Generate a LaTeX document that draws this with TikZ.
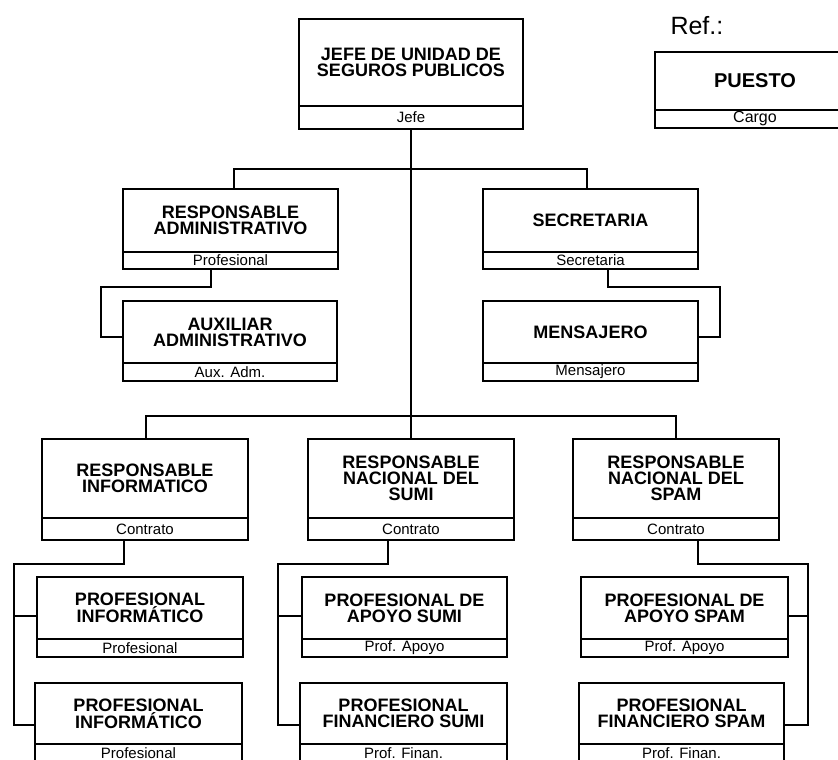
\documentclass[tikz,border=0pt]{standalone}
\usepackage{fontspec}
\setmainfont{Liberation Sans}
\begin{document}
\begin{tikzpicture}[x=1pt,y=-1pt,
  ttl/.style={draw, line width=1.5pt, inner sep=0pt, outer sep=0pt, align=center, anchor=north west,
    font=\bfseries\fontsize{18}{16}\selectfont},
  crg/.style={draw, line width=1.5pt, inner sep=0pt, outer sep=0pt, anchor=north west,
    font=\fontsize{15}{15}\selectfont},
  link/.style={line width=1.5pt}]
\useasboundingbox (0,0) rectangle (838,760);
% ---- reference legend
\node[anchor=base west, font=\fontsize{25}{25}\selectfont] (reft) at (667,35) {Ref.:};
\node[ttl, minimum width=200pt, minimum height=58pt, font=\bfseries\fontsize{20}{20}\selectfont] (ref) at (655,52) {PUESTO};
\node[crg, minimum width=200pt, minimum height=18pt, font=\fontsize{16}{16}\selectfont] (refc) at (ref.south west) {Cargo};
% ---- boxes
\node[ttl, minimum width=224pt, minimum height=87pt] (jefe) at (299,19) {JEFE DE UNIDAD DE\\SEGUROS PUBLICOS};
\node[crg, minimum width=224pt, minimum height=23pt] (jefec) at (jefe.south west) {Jefe};

\node[ttl, minimum width=215pt, minimum height=63pt] (ra) at (123,189) {RESPONSABLE\\ADMINISTRATIVO};
\node[crg, minimum width=215pt, minimum height=17pt] (rac) at (ra.south west) {Profesional};
\node[ttl, minimum width=214pt, minimum height=62pt] (aux) at (123,301) {AUXILIAR\\ADMINISTRATIVO};
\node[crg, minimum width=214pt, minimum height=18pt] (auxc) at (aux.south west) {Aux. Adm.};

\node[ttl, minimum width=215pt, minimum height=63pt] (sec) at (483,189) {SECRETARIA};
\node[crg, minimum width=215pt, minimum height=17pt] (secc) at (sec.south west) {Secretaria};
\node[ttl, minimum width=215pt, minimum height=62pt] (men) at (483,301) {MENSAJERO};
\node[crg, minimum width=215pt, minimum height=18pt] (menc) at (men.south west) {Mensajero};

\node[ttl, minimum width=206pt, minimum height=79pt] (ri) at (42,439) {RESPONSABLE\\INFORMATICO};
\node[crg, minimum width=206pt, minimum height=22pt] (ric) at (ri.south west) {Contrato};
\node[ttl, minimum width=206pt, minimum height=79pt] (rs) at (308,439) {RESPONSABLE\\NACIONAL DEL\\SUMI};
\node[crg, minimum width=206pt, minimum height=22pt] (rsc) at (rs.south west) {Contrato};
\node[ttl, minimum width=206pt, minimum height=79pt] (rp) at (573,439) {RESPONSABLE\\NACIONAL DEL\\SPAM};
\node[crg, minimum width=206pt, minimum height=22pt] (rpc) at (rp.south west) {Contrato};

\node[ttl, minimum width=206pt, minimum height=62pt] (pia) at (37,577) {PROFESIONAL\\INFORMÁTICO};
\node[crg, minimum width=206pt, minimum height=18pt] (piac) at (pia.south west) {Profesional};
\node[ttl, minimum width=207pt, minimum height=61pt] (pib) at (35,683) {PROFESIONAL\\INFORMÁTICO};
\node[crg, minimum width=207pt, minimum height=18pt] (pibc) at (pib.south west) {Profesional};

\node[ttl, minimum width=205pt, minimum height=62pt] (psa) at (302,577) {PROFESIONAL DE\\APOYO SUMI};
\node[crg, minimum width=205pt, minimum height=18pt] (psac) at (psa.south west) {Prof. Apoyo};
\node[ttl, minimum width=207pt, minimum height=61pt] (psb) at (300,683) {PROFESIONAL\\FINANCIERO SUMI};
\node[crg, minimum width=207pt, minimum height=18pt] (psbc) at (psb.south west) {Prof. Finan.};

\node[ttl, minimum width=207pt, minimum height=62pt] (ppa) at (581,577) {PROFESIONAL DE\\APOYO SPAM};
\node[crg, minimum width=207pt, minimum height=18pt] (ppac) at (ppa.south west) {Prof. Apoyo};
\node[ttl, minimum width=205pt, minimum height=61pt] (ppb) at (579,683) {PROFESIONAL\\FINANCIERO SPAM};
\node[crg, minimum width=205pt, minimum height=18pt] (ppbc) at (ppb.south west) {Prof. Finan.};

% ---- connectors
\coordinate (hb) at (411,416);
\draw[link] (jefec.south) -- (hb);
\coordinate (h1l) at (234,169);
\coordinate (h1r) at (587,169);
\draw[link] (h1l |- ra.north) -- (h1l) -- (h1r) -- (h1r |- sec.north);

\coordinate (a1) at (211,287);
\coordinate (a2) at (101,337);
\draw[link] (a1 |- rac.south) -- (a1) -| (a2) -- (a2 -| aux.west);
\coordinate (s1) at (608,287);
\coordinate (s2) at (720,337);
\draw[link] (s1 |- secc.south) -- (s1) -| (s2) -- (s2 -| men.east);

\coordinate (h2l) at (146,416);
\coordinate (h2r) at (676,416);
\draw[link] (h2l |- ri.north) -- (h2l) -- (h2r) -- (h2r |- rp.north);
\draw[link] (hb) -- (rs.north);

\coordinate (i1) at (124,564);
\coordinate (i2) at (14,725);
\coordinate (i3) at (14,616);
\draw[link] (i1 |- ric.south) -- (i1) -| (i2) -- (i2 -| pib.west);
\draw[link] (i3) -- (i3 -| pia.west);

\coordinate (u1) at (388,564);
\coordinate (u2) at (278,725);
\coordinate (u3) at (278,616);
\draw[link] (u1 |- rsc.south) -- (u1) -| (u2) -- (u2 -| psb.west);
\draw[link] (u3) -- (u3 -| psa.west);

\coordinate (p1) at (698,564);
\coordinate (p2) at (808,725);
\coordinate (p3) at (808,616);
\draw[link] (p1 |- rpc.south) -- (p1) -| (p2) -- (p2 -| ppb.east);
\draw[link] (p3) -- (p3 -| ppa.east);
\end{tikzpicture}
\end{document}
